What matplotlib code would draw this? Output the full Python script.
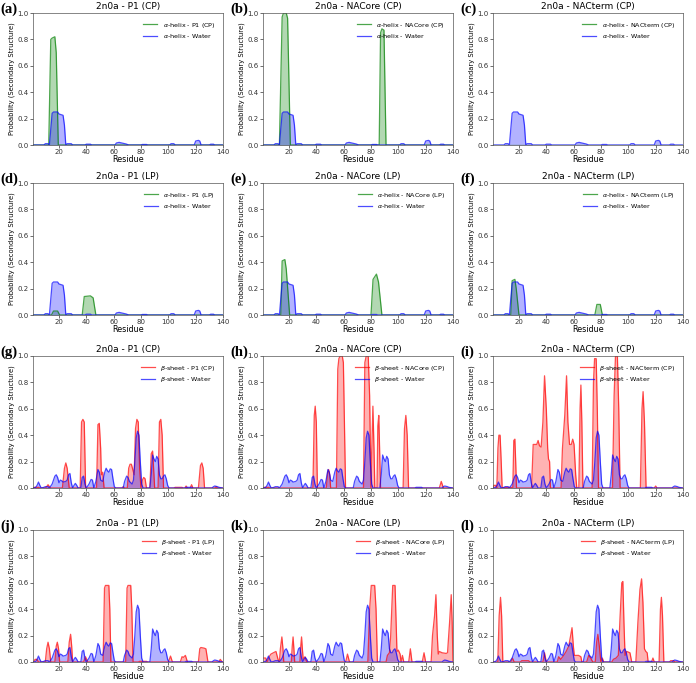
import matplotlib
matplotlib.use("Agg")
import matplotlib.pyplot as plt

# residue / probability pairs
helix_water = [(1, 0), (9, 0), (10, 0.01), (12, 0.01), (13, 0), (14, 0.12), (15, 0.24), (16, 0.25),
               (19, 0.25), (20, 0.235), (23, 0.225), (24, 0.15), (25, 0), (26, 0.01), (29, 0.01),
               (30, 0), (39, 0), (40, 0.006), (43, 0.006), (44, 0), (61, 0), (62, 0.015),
               (64, 0.02), (66, 0.015), (69, 0.008), (71, 0), (80, 0), (81, 0.004), (84, 0.004),
               (85, 0), (101, 0), (102, 0.01), (104, 0.01), (105, 0), (119, 0), (120, 0.03),
               (122, 0.035), (123, 0.03), (124, 0), (130, 0), (131, 0.006), (133, 0.006),
               (134, 0), (140, 0)]
helix_p1_cp = [(1, 0), (12.5, 0), (14, 0.8), (15, 0.81), (17, 0.82), (18, 0.7), (19.5, 0), (140, 0)]
helix_nacore_cp = [(1, 0), (13, 0), (15, 0.97), (16, 1.0), (18, 1.0), (19, 0.96), (21, 0),
                   (86, 0), (87, 0.85), (88, 0.88), (89.5, 0.87), (91, 0), (140, 0)]
helix_nacterm_cp = [(1, 0), (140, 0)]
helix_p1_lp = [(1, 0), (14.5, 0), (16, 0.03), (19, 0.03), (20.5, 0), (37, 0), (38.5, 0.14),
               (43, 0.145), (45, 0.13), (47, 0), (140, 0)]
helix_nacore_lp = [(1, 0), (14, 0), (15, 0.41), (17, 0.42), (18, 0.35), (20.5, 0), (80, 0),
                   (81.5, 0.27), (84, 0.31), (85.5, 0.25), (88, 0), (140, 0)]
helix_nacterm_lp = [(1, 0), (14, 0), (15, 0.26), (17, 0.27), (18, 0.2), (20, 0), (75.5, 0),
                    (77, 0.08), (79.5, 0.08), (81, 0), (140, 0)]

sheet_water = [(1, 0), (3, 0.005), (4, 0.02), (5, 0.045), (6, 0.02), (7, 0), (9, 0.005),
               (10, 0.01), (12, 0.01), (13, 0), (15, 0.03), (17, 0.09), (18, 0.1), (19, 0.08),
               (20, 0.04), (21, 0.06), (22, 0.055), (23, 0.045), (25, 0.05), (26, 0.06),
               (27, 0.1), (28, 0.11), (29, 0.04), (30, 0), (31, 0.02), (32, 0.035), (33, 0.02),
               (34, 0), (36, 0), (37, 0.08), (38, 0.09), (39, 0.03), (40, 0), (42, 0.03),
               (43.5, 0.065), (44.5, 0.06), (45.5, 0), (47, 0.05), (48.5, 0.14), (49.5, 0.12),
               (50.5, 0.06), (52, 0.05), (53.5, 0.12), (54.5, 0.15), (55.5, 0.13), (56.5, 0.12),
               (57.5, 0.145), (58.5, 0.14), (59.5, 0.07), (60.5, 0.01), (61.5, 0), (67, 0),
               (68, 0.05), (69.5, 0.09), (70.5, 0.08), (71.5, 0.05), (72.5, 0.04), (73.5, 0.03),
               (74.5, 0.06), (75.5, 0.2), (76.5, 0.38), (77.5, 0.43), (78.5, 0.4), (79.5, 0.2),
               (80.5, 0.03), (81.5, 0), (86.5, 0), (87.5, 0.1), (88.5, 0.25), (89.5, 0.22),
               (90.5, 0.2), (91.5, 0.24), (92.5, 0.22), (93.5, 0.1), (94.5, 0.07), (95.5, 0.07),
               (96.5, 0.09), (97.5, 0.1), (98.5, 0.07), (99.5, 0.02), (100.5, 0), (112, 0),
               (113, 0.005), (117, 0.005), (118, 0), (132, 0), (133, 0.01), (134, 0.015),
               (136, 0.01), (137, 0.005), (140, 0)]
sheet_p1_cp = [(1, 0), (2, 0.005), (5, 0.005), (6, 0), (10, 0), (11, 0.01), (12, 0.025), (13, 0.01),
               (14, 0), (22.5, 0), (24, 0.15), (25, 0.19), (26, 0.15), (27.5, 0), (35.5, 0),
               (36.5, 0.5), (37.5, 0.52), (38.5, 0.5), (39.5, 0), (47.5, 0), (48.5, 0.48),
               (49.5, 0.49), (50.5, 0.3), (51, 0.1), (52, 0.12), (53, 0), (66, 0), (67, 0.01),
               (68, 0), (70, 0), (71, 0.15), (72, 0.18), (73, 0.18), (74, 0.14), (75, 0.1),
               (76, 0.45), (77, 0.52), (78, 0.5), (79, 0.15), (80, 0), (81, 0.06), (82, 0.08),
               (83, 0.07), (84, 0), (86.5, 0), (87.5, 0.26), (88.5, 0.28), (89.5, 0.1), (90, 0),
               (92.5, 0), (93.5, 0.5), (94.5, 0.52), (95.5, 0.4), (96.5, 0), (104, 0),
               (105, 0.005), (110, 0.005), (111, 0), (112, 0), (113, 0.015), (114, 0), (116, 0),
               (117, 0.025), (118, 0), (122, 0), (123.5, 0.17), (124.5, 0.19), (125.5, 0.15),
               (126.5, 0), (134, 0), (135, 0.01), (136, 0), (140, 0)]
sheet_nacore_cp = [(1, 0), (2, 0.005), (5, 0.005), (6, 0), (37.5, 0), (38.5, 0.55), (39.2, 0.62),
                   (40, 0.5), (40.8, 0), (47.3, 0), (48.3, 0.12), (49, 0.14), (49.8, 0.1),
                   (50.5, 0), (54.7, 0), (55.7, 0.9), (56.5, 0.98), (57.5, 1.0), (59, 1.0),
                   (59.8, 0.95), (61.4, 0), (74.5, 0), (75.5, 0.95), (76.5, 1.0), (78, 1.0),
                   (79, 0.7), (80, 0), (80.6, 0.3), (81.4, 0.62), (82.2, 0.3), (82.8, 0),
                   (84.4, 0), (85, 0.47), (85.7, 0.55), (86.3, 0.3), (87, 0), (103.5, 0),
                   (104.5, 0.45), (105.5, 0.55), (106.5, 0.4), (107.5, 0), (130, 0),
                   (131.4, 0.05), (133, 0), (140, 0)]
sheet_nacterm_cp = [(1, 0), (1.5, 0.02), (3, 0.02), (3.8, 0), (4.6, 0.3), (5.3, 0.4), (6.2, 0.4),
                    (7, 0.2), (7.7, 0), (10, 0.005), (14, 0.005), (15.5, 0), (16.2, 0.36),
                    (17, 0.37), (17.6, 0.2), (18.2, 0), (29.2, 0), (30.4, 0.33), (33, 0.33),
                    (34, 0.36), (35, 0.32), (36.2, 0.31), (37.5, 0.5), (38.7, 0.85), (40, 0.6),
                    (41, 0.3), (41.6, 0.22), (42.4, 0.2), (43, 0), (50.8, 0), (51.8, 0.3),
                    (53.5, 0.55), (54.8, 0.85), (55.8, 0.5), (57, 0.33), (58.3, 0.33),
                    (59.3, 0.37), (60.3, 0.33), (61.5, 0.1), (62.3, 0), (63.8, 0), (64.7, 0.6),
                    (65.3, 0.78), (66, 0.5), (66.8, 0), (73.5, 0), (74.5, 0.8), (75.3, 0.98),
                    (76.5, 0.98), (77.3, 0.6), (78.2, 0), (88.4, 0), (89.6, 0.7), (90.6, 1.0),
                    (92, 1.0), (93, 0.6), (94, 0), (108.8, 0), (110, 0.6), (110.8, 0.73),
                    (111.8, 0.5), (113, 0), (119, 0), (120, 0.015), (121, 0), (140, 0)]
sheet_p1_lp = [(1, 0), (2, 0.01), (2.5, 0.02), (4, 0.02), (5, 0), (10, 0), (11, 0.1), (12, 0.15),
               (13, 0.1), (14, 0), (17, 0), (18, 0.12), (18.8, 0.15), (19.7, 0.1), (20.5, 0),
               (26.5, 0), (27.5, 0.15), (28.5, 0.21), (29.3, 0.12), (30, 0), (38, 0),
               (39.4, 0.04), (41, 0), (52.3, 0), (53.3, 0.56), (54, 0.58), (56.5, 0.58),
               (57.2, 0.4), (58, 0), (68.8, 0), (69.8, 0.56), (70.5, 0.58), (72.5, 0.58),
               (73.3, 0.4), (74.2, 0), (78, 0), (79, 0.005), (84, 0.005), (85, 0), (100, 0),
               (101.6, 0.045), (103, 0), (108.8, 0), (110, 0.04), (111, 0.035), (112.5, 0.05),
               (114, 0), (122, 0), (123, 0.1), (123.8, 0.11), (126.2, 0.105), (127.5, 0.1),
               (129, 0), (137, 0), (138, 0.02), (139.5, 0), (140, 0)]
sheet_nacore_lp = [(1, 0.03), (3, 0.03), (4, 0), (5.5, 0.04), (6.8, 0.06), (8.6, 0.07),
                   (10.5, 0.08), (12, 0.02), (13, 0), (13.7, 0.1), (14.8, 0.19), (15.6, 0.1),
                   (16.2, 0), (21.7, 0), (22.4, 0.12), (23, 0.19), (23.6, 0.1), (24.2, 0),
                   (28, 0), (28.6, 0.12), (29.2, 0.19), (29.8, 0.1), (30.4, 0.02), (31.7, 0.04),
                   (33, 0), (61.5, 0), (62.8, 0.06), (64.3, 0), (77.7, 0), (79, 0.4),
                   (80.2, 0.58), (82.7, 0.58), (83.7, 0.4), (84.7, 0), (91, 0), (92, 0.05),
                   (93.5, 0.07), (94.4, 0.2), (95.9, 0.58), (97.6, 0.58), (98.4, 0.3),
                   (99, 0.08), (100, 0.09), (101.3, 0.06), (102, 0), (103, 0.05), (104, 0),
                   (107.6, 0), (108.8, 0.1), (110, 0), (117.5, 0), (118.8, 0.07), (120, 0),
                   (124, 0), (125, 0.2), (126.5, 0.35), (127.5, 0.51), (128.5, 0.2),
                   (129.2, 0.06), (130, 0.08), (132, 0.07), (135, 0.065), (136, 0.07),
                   (137.5, 0.3), (138.7, 0.51), (139.4, 0.3), (140, 0)]
sheet_nacterm_lp = [(1, 0), (4.5, 0), (5.5, 0.35), (6.5, 0.49), (7.3, 0.35), (8.2, 0),
                    (14, 0), (15.2, 0.03), (16.5, 0), (21, 0), (22, 0.01), (27, 0.01), (28, 0),
                    (37.5, 0), (38.7, 0.07), (40, 0), (48, 0), (49, 0.04), (50.5, 0.02),
                    (52.7, 0.05), (54.5, 0.08), (56.4, 0.12), (57.8, 0.2), (58.8, 0.26),
                    (59.8, 0.12), (60.5, 0.05), (63.6, 0.05), (65.3, 0.04), (66, 0), (69.5, 0),
                    (71, 0.05), (72.5, 0.03), (74, 0), (75.8, 0), (76.8, 0.15), (77.7, 0.21),
                    (78.8, 0.12), (79.9, 0), (81, 0.03), (82, 0), (88, 0), (89, 0.02),
                    (91, 0.03), (92.7, 0.05), (94, 0.35), (95.2, 0.6), (96, 0.61), (96.8, 0.3),
                    (97.6, 0.05), (98.8, 0.08), (101.2, 0.07), (102.5, 0), (105.5, 0),
                    (107, 0.3), (108.5, 0.55), (109.7, 0.63), (110.7, 0.45), (111.8, 0.1),
                    (112.8, 0.08), (113.8, 0.07), (114.5, 0), (117, 0), (118, 0.03), (119, 0),
                    (122.5, 0), (123.5, 0.4), (124.2, 0.49), (125, 0.35), (126, 0), (130, 0),
                    (131, 0.01), (133, 0.01), (134, 0), (140, 0)]

panel_letters = ['(a)', '(b)', '(c)', '(d)', '(e)', '(f)', '(g)', '(h)', '(i)', '(j)', '(k)', '(l)']
systems = ['P1 (CP)', 'NACore (CP)', 'NACterm (CP)', 'P1 (LP)', 'NACore (LP)', 'NACterm (LP)']
helix_series = [helix_p1_cp, helix_nacore_cp, helix_nacterm_cp,
                helix_p1_lp, helix_nacore_lp, helix_nacterm_lp]
sheet_series = [sheet_p1_cp, sheet_nacore_cp, sheet_nacterm_cp,
                sheet_p1_lp, sheet_nacore_lp, sheet_nacterm_lp]
xticks = [20, 40, 60, 80, 100, 120, 140]
yticks = [0.0, 0.2, 0.4, 0.6, 0.8, 1.0]

W, H = 696, 683
fig = plt.figure(figsize=(W / 100, H / 100), dpi=100)

col_left = [33, 263, 493]
row_top = [13, 183, 356, 530]
aw, ah = 190, 132


def draw(ax, data, label, color, water, water_label):
    x, y = zip(*data)
    ax.plot(x, y, color=color, lw=0.9, alpha=0.7, label=label)
    ax.fill_between(x, y, color=color, alpha=0.3, lw=0)
    wx, wy = zip(*water)
    ax.plot(wx, wy, color='blue', lw=0.9, alpha=0.7, label=water_label)
    ax.fill_between(wx, wy, color='blue', alpha=0.3, lw=0)


for i in range(12):
    r, c = divmod(i, 3)
    left = col_left[c]
    top = row_top[r]
    ax = fig.add_axes([left / W, (H - top - ah) / H, aw / W, ah / H])
    sys_name = systems[i % 6]
    if i < 6:
        draw(ax, helix_series[i], r'$\alpha$-helix - ' + sys_name, 'green',
             helix_water, r'$\alpha$-helix - Water')
    else:
        draw(ax, sheet_series[i - 6], r'$\beta$-sheet - ' + sys_name, 'red',
             sheet_water, r'$\beta$-sheet - Water')
    ax.set_xlim(1, 140)
    ax.set_ylim(0, 1.0)
    ax.set_xticks(xticks)
    ax.set_yticks(yticks)
    ax.set_yticklabels(['%.1f' % v for v in yticks])
    ax.tick_params(labelsize=5, length=2, width=0.5, pad=1.2, colors='#333333')
    for s in ax.spines.values():
        s.set_linewidth(0.5)
        s.set_color('#555555')
    ax.set_title('2n0a - ' + sys_name, fontsize=6.5, pad=3)
    ax.set_xlabel('Residue', fontsize=5.8, labelpad=0)
    ax.set_ylabel('Probability (Secondary Structure)', fontsize=4.9, labelpad=2)
    ax.legend(loc='upper right', fontsize=4.6, frameon=False, handlelength=2.2,
              borderaxespad=0.8, labelspacing=0.4)
    fig.text((left - 33) / W, 1 - (top - 4) / H, panel_letters[i], fontsize=10.5,
             fontweight='bold', family='Liberation Serif', ha='left', va='center')

fig.savefig('out.png', dpi=100)
